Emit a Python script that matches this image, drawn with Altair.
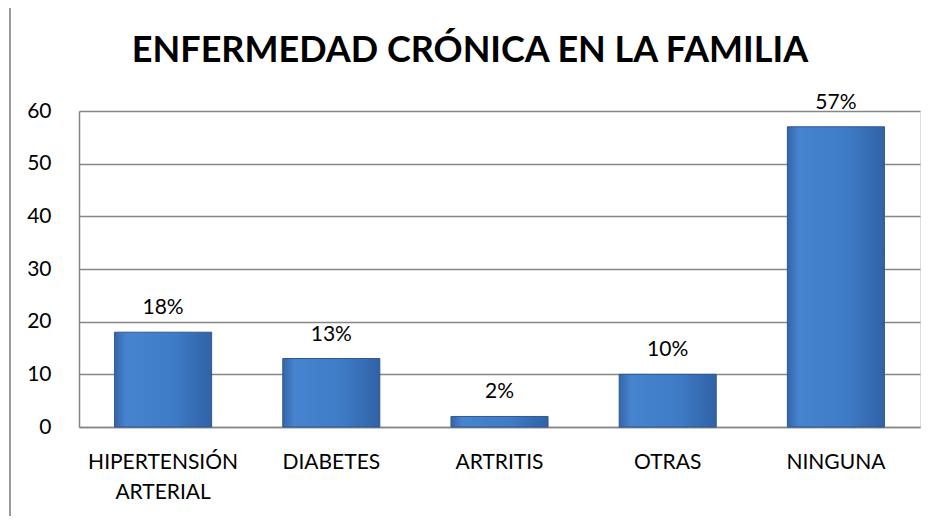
import altair as alt
import pandas as pd

categories = ["HIPERTENSIÓN\nARTERIAL", "DIABETES", "ARTRITIS", "OTRAS", "NINGUNA"]
values = [18, 13, 2, 10, 57]
labels = ["18%", "13%", "2%", "10%", "57%"]
title_text = "ENFERMEDAD CRÓNICA EN LA FAMILIA"
y_ticks = [0, 10, 20, 30, 40, 50, 60]

df = pd.DataFrame({"cat": categories, "val": values, "lab": labels})
FONT = "Lato"
FS = 21

x_enc = alt.X(
    "cat:N", sort=categories, title=None,
    scale=alt.Scale(paddingInner=0.423, paddingOuter=0.2115),
    axis=alt.Axis(labelAngle=0, labelFont=FONT, labelFontSize=FS, labelColor="#000",
                  labelExpr="split(datum.label, '\\n')", labelLineHeight=30,
                  labelPadding=35, ticks=False, domainColor="#868686", domainWidth=1.5,
                  labelBaseline="middle"),
)
y_enc = alt.Y(
    "val:Q", title=None,
    scale=alt.Scale(domain=[0, 60], nice=False),
    axis=alt.Axis(values=y_ticks, labelFont=FONT, labelFontSize=FS, labelColor="#000",
                  ticks=False, labelPadding=28, domainColor="#868686", domainWidth=1.5,
                  gridColor="#868686", gridWidth=1.5),
)

grad = alt.Gradient(
    gradient="linear", x1=0, x2=1, y1=0, y2=0,
    stops=[alt.GradientStop(color="#3565a8", offset=0),
           alt.GradientStop(color="#4784d0", offset=0.12),
           alt.GradientStop(color="#3f7cc8", offset=0.6),
           alt.GradientStop(color="#3162a5", offset=1)],
)

bars = alt.Chart(df).mark_bar(color=grad, stroke="#2c5892", strokeWidth=1).encode(x=x_enc, y=y_enc)

text = alt.Chart(df).mark_text(font=FONT, fontSize=FS, color="#000", baseline="alphabetic", dy=-18).encode(
    x=alt.X("cat:N", sort=categories), y="val:Q", text="lab:N"
)

one = alt.Data(values=[{"a": 1}])
title = alt.Chart(one).mark_text(font=FONT, fontSize=36, fontWeight="bold", color="#000",
                                 baseline="middle", align="center").encode(
    x=alt.value(391), y=alt.value(-60), text=alt.value(title_text)
)
top_line = alt.Chart(one).mark_rule(color="#9a9a9a", strokeWidth=2).encode(
    x=alt.value(-69), x2=alt.value(861), y=alt.value(-106)
)
left_line = alt.Chart(one).mark_rule(color="#9a9a9a", strokeWidth=2).encode(
    x=alt.value(-69), y=alt.value(-106), y2=alt.value(413)
)

chart = alt.layer(bars, text, title, top_line, left_line).properties(
    width=841, height=316,
    autosize=alt.AutoSizeParams(type="none"),
    padding={"left": 71, "top": 103, "right": 12, "bottom": 89},
).configure_view(stroke=None).configure(background="white")

chart.save("out.html", embed_options={"renderer": "svg", "actions": False})
